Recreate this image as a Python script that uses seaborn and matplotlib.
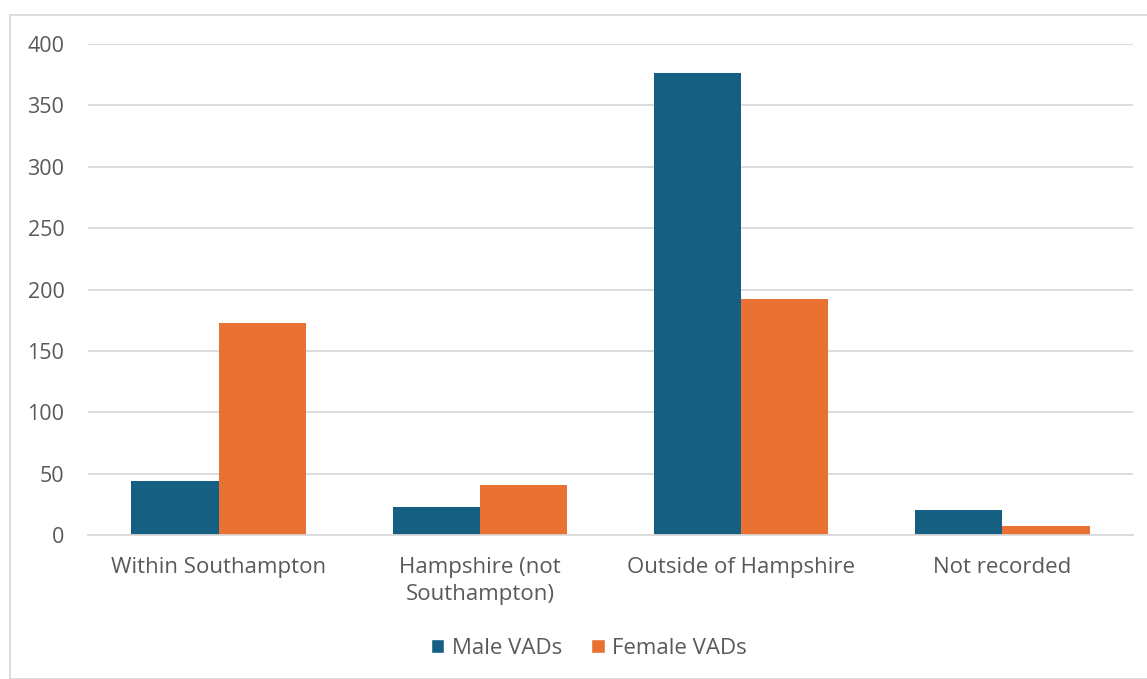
import pandas as pd
import matplotlib.pyplot as plt
import seaborn as sns
from matplotlib.patches import Rectangle, Patch

# Data
locations = ['Within Southampton', 'Hampshire (not\nSouthampton)', 'Outside of Hampshire', 'Not recorded']
male_vads = [44, 23, 376, 20]
female_vads = [173, 41, 192, 7]
series = ['Male VADs', 'Female VADs']
colors = ['#156082', '#E97132']

df = pd.DataFrame({
    'location': locations * 2,
    'count': male_vads + female_vads,
    'series': [series[0]] * len(locations) + [series[1]] * len(locations),
})

sns.set_style('white')
plt.rcParams['font.family'] = ['Open Sans', 'DejaVu Sans']

fig = plt.figure(figsize=(11.47, 6.79), dpi=100)
ax = fig.add_axes([88 / 1147, 1 - 535 / 679, (1133 - 88) / 1147, (535 - 44) / 679])

sns.barplot(data=df, x='location', y='count', hue='series', palette=colors,
            width=0.667, saturation=1, linewidth=0, ax=ax, legend=False)

ax.set_ylim(0, 400)
ax.set_xlim(-0.5, len(locations) - 0.5)
ax.set_yticks(range(0, 401, 50))
ax.yaxis.grid(True, color='#d9d9d9', linewidth=1.3)
ax.set_axisbelow(True)
ax.set_xlabel('')
ax.set_ylabel('')

for s in ['top', 'right', 'left']:
    ax.spines[s].set_visible(False)
ax.spines['bottom'].set_color('#d9d9d9')
ax.spines['bottom'].set_linewidth(1.3)

ax.tick_params(axis='y', length=0, pad=17, labelsize=15.5, labelcolor='#595959')
ax.tick_params(axis='x', which='major', length=0, pad=16, labelsize=16, labelcolor='#595959')
ax.set_xticks([i - 0.5 for i in range(len(locations) + 1)], minor=True)
ax.tick_params(axis='x', which='minor', length=7, width=1.3, color='#d9d9d9')
for lbl in ax.get_xticklabels():
    lbl.set_verticalalignment('top')
    lbl.set_linespacing(1.38)

handles = [Patch(facecolor=c, label=l) for c, l in zip(colors, series)]
fig.legend(handles=handles, loc='center', bbox_to_anchor=(589 / 1147, 1 - 648 / 679), ncol=2,
           frameon=False, fontsize=16, labelcolor='#595959', handlelength=0.6,
           handleheight=0.6, handletextpad=0.35, columnspacing=1.3)

# light outer frame like the original chart area
fig.patches.append(Rectangle((10 / 1147, 0), 1.2, 1 - 15 / 679, transform=fig.transFigure,
                             fill=False, edgecolor='#d9d9d9', linewidth=1.3))

fig.savefig('out.png', dpi=100, facecolor='white')
